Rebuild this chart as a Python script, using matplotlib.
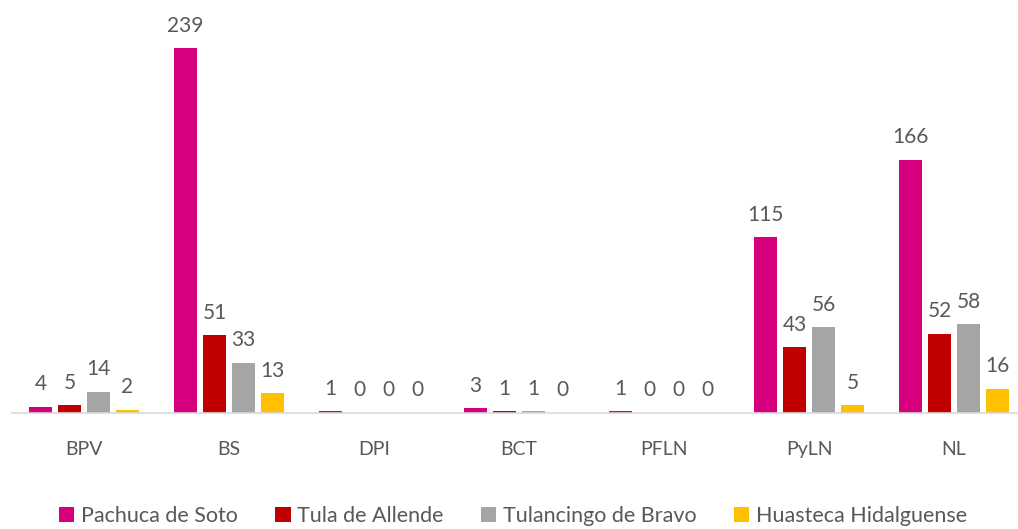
import numpy as np
import matplotlib
matplotlib.use('Agg')
import matplotlib.pyplot as plt

plt.rcParams['font.family'] = ['Lato', 'DejaVu Sans']

# Datos
categorias = ['BPV', 'BS', 'DPI', 'BCT', 'PFLN', 'PyLN', 'NL']
pachuca = [4, 239, 1, 3, 1, 115, 166]
tula = [5, 51, 0, 1, 0, 43, 52]
tulancingo = [14, 33, 0, 1, 0, 56, 58]
huasteca = [2, 13, 0, 0, 0, 5, 16]

series = [
    ('Pachuca de Soto', pachuca, '#D6007F'),
    ('Tula de Allende', tula, '#C00000'),
    ('Tulancingo de Bravo', tulancingo, '#A5A5A5'),
    ('Huasteca Hidalguense', huasteca, '#FFC000'),
]

texto = '#595959'

fig = plt.figure(figsize=(10.18, 5.29), dpi=100)
ax = fig.add_axes([11.5 / 1018, 116 / 529, 1015 / 1018, 397 / 529])

x = np.arange(len(categorias))
ancho = 0.159
paso = 0.2
for i, (nombre, vals, color) in enumerate(series):
    pos = x + (i - 1.5) * paso
    ax.bar(pos, vals, ancho, color=color, label=nombre)
    for xb, v in zip(pos, vals):
        ax.annotate(str(v), (xb, v), xytext=(0, 9), textcoords='offset points',
                    ha='center', va='bottom', fontsize=15, color=texto)

ax.set_xlim(-0.5, len(categorias) - 0.5)
ax.set_ylim(0, 260)
ax.set_xticks(x)
ax.set_xticklabels(categorias, fontsize=14, color=texto)
ax.tick_params(axis='x', length=0, pad=20)
ax.set_yticks([])
for lado in ['top', 'right', 'left']:
    ax.spines[lado].set_visible(False)
ax.spines['bottom'].set_color('#D9D9D9')
ax.spines['bottom'].set_linewidth(1.2)

fig.legend(loc='center', bbox_to_anchor=(513 / 1018, 1 - 516 / 529), ncol=4,
           frameon=False, fontsize=15.5, labelcolor=texto, handlelength=0.7,
           handleheight=0.7, handletextpad=0.3, columnspacing=1.75)

plt.savefig('out.png', dpi=100)
